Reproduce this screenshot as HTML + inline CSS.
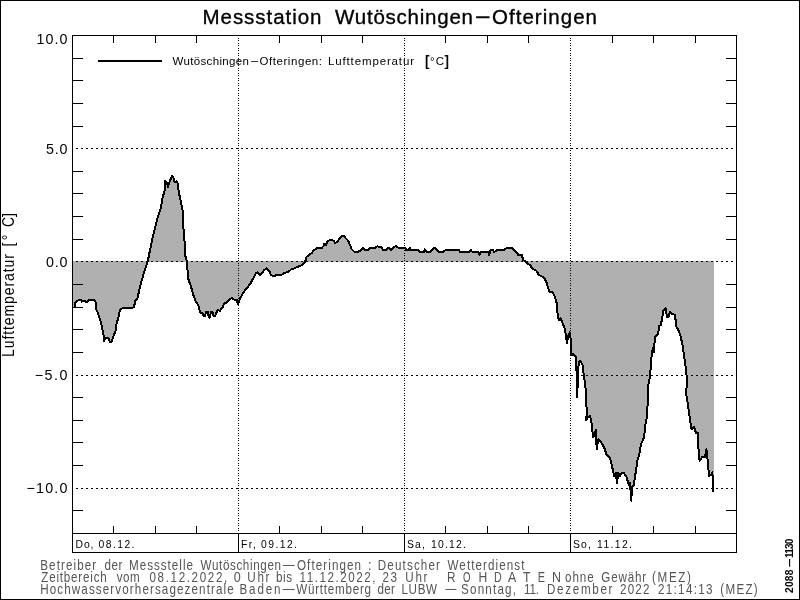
<!DOCTYPE html>
<html lang="de"><head><meta charset="utf-8"><title>Messstation Wutöschingen-Ofteringen</title>
<style>
html,body{margin:0;padding:0;background:#fff;}
body{width:800px;height:600px;overflow:hidden;font-family:"Liberation Sans",sans-serif;}
svg{display:block;}
text{font-family:"Liberation Sans",sans-serif;}
.ft{fill:#555;font-size:13px;}
</style></head><body>
<svg width="800" height="600" viewBox="0 0 800 600">
<rect x="0" y="0" width="800" height="600" fill="#fff"/>
<polygon points="72.5,261.5 72.5,307 74.5,307.5 74.5,303.0 76.5,301.5 79.0,299.8 81.0,299.8 82.0,301.6 83.0,300.8 84.0,301.6 85.0,301.0 86.0,301.7 87.5,301.7 89.0,299.8 94.5,299.8 95.5,302.0 96.2,309.0 98.0,313.5 100.3,320.0 100.8,321.7 102.5,330.0 103.8,336.7 104.2,340.8 105.8,337.5 108.3,337.5 110.0,342.5 111.7,341.7 114.2,334.2 115.8,330.0 116.7,322.5 118.3,318.3 120.0,310.0 123.3,307.5 125.8,308.3 131.7,308.3 134.2,306.7 135.0,300.8 137.5,298.3 140.0,286.7 143.3,275.0 146.7,264.2 148.0,260.0 151.7,241.7 155.0,228.3 157.5,218.3 160.8,208.3 162.5,198.3 164.7,190.0 165.0,180.8 166.3,181.7 168.0,186.7 170.0,180.8 172.0,175.8 173.3,177.5 174.7,182.5 176.7,181.3 178.0,184.2 178.7,191.7 180.8,201.7 182.5,210.0 183.3,226.7 184.7,243.3 185.3,255.8 187.0,261.7 188.0,278.3 190.8,285.8 193.3,295.0 195.8,301.7 198.3,305.0 200.0,312.5 202.5,313.3 203.3,315.8 205.0,315.8 206.3,311.7 208.0,311.7 208.7,317.5 210.0,317.5 210.8,311.7 212.5,311.7 213.3,315.8 215.3,315.8 217.5,310.0 220.0,310.8 222.5,307.5 224.2,303.3 226.7,302.5 229.2,300.0 231.7,298.0 234.2,299.7 236.7,300.0 238.0,304.2 239.7,299.2 242.5,294.2 245.8,289.2 250.0,284.2 253.3,278.3 255.8,273.3 257.5,272.5 259.7,275.0 261.7,273.3 264.2,270.0 266.7,268.3 269.2,270.8 270.8,275.0 273.3,276.3 276.7,275.0 281.7,274.7 284.2,273.0 288.3,272.0 290.8,269.7 295.0,268.0 299.2,266.3 302.5,264.7 305.0,262.0 306.7,256.7 309.2,254.7 311.7,253.0 314.2,250.0 317.5,248.0 321.7,248.0 323.7,245.8 324.2,243.7 325.8,245.0 327.5,241.3 330.8,239.7 333.3,240.5 335.3,243.0 337.5,241.7 340.0,238.0 341.7,235.8 344.2,235.8 345.8,238.3 348.3,240.8 350.0,245.0 351.7,249.2 354.2,251.7 358.3,251.7 360.8,250.5 363.3,248.0 364.7,249.7 365.0,250.0 368.1,250.0 370.6,247.5 375.6,247.5 377.5,246.3 381.9,247.5 383.1,250.0 386.3,250.0 388.8,247.5 391.3,250.0 393.8,247.5 396.3,245.6 397.5,247.5 405.0,247.5 406.3,250.0 408.8,250.0 410.0,247.5 410.6,250.0 418.1,250.0 419.4,251.9 423.8,251.9 425.0,249.4 426.3,251.9 430.0,251.9 432.5,249.4 435.0,247.5 436.9,250.0 438.8,251.9 443.1,251.9 445.6,250.0 458.8,250.0 460.0,251.9 469.4,251.9 471.0,249.8 471.9,251.5 478.1,251.9 479.4,255.0 480.6,251.9 488.1,251.9 489.0,255.0 490.6,250.0 493.1,249.8 494.0,252.3 496.9,250.0 504.4,249.8 506.9,247.8 511.9,247.8 514.4,250.0 516.9,252.5 518.1,254.8 521.9,255.0 523.1,260.0 525.6,261.3 527.5,263.8 530.0,265.0 532.5,268.8 536.3,270.6 538.8,275.0 541.9,276.3 545.0,279.4 546.7,283.0 549.2,291.7 552.5,292.5 555.0,296.7 556.7,303.3 557.5,313.3 558.7,320.0 560.8,318.3 562.5,323.3 564.2,326.7 565.8,334.2 567.0,343.3 568.3,335.8 569.7,332.5 570.8,340.0 571.3,355.0 573.3,354.2 575.8,356.7 576.7,375.0 577.2,397.5 578.0,375.0 578.7,362.5 580.3,360.8 582.5,365.0 583.7,375.0 585.3,385.0 586.3,400.0 586.7,413.3 586.3,420.0 588.0,416.7 590.0,416.3 591.3,420.0 592.0,428.3 593.3,437.5 595.8,430.0 596.7,449.2 598.3,439.2 601.7,443.3 604.2,447.5 606.7,455.0 610.0,458.3 611.7,465.0 614.2,475.8 615.8,473.0 617.0,483.0 618.3,472.5 620.0,475.8 621.7,473.0 624.2,473.3 626.7,477.5 628.7,484.7 630.0,482.5 631.3,500.8 632.0,486.7 633.7,485.0 635.8,471.7 637.5,460.0 639.2,455.0 640.8,445.0 644.2,436.7 645.3,425.0 646.7,418.3 647.5,406.7 648.0,386.7 650.0,376.0 651.7,355.0 653.0,347.5 653.7,352.5 655.0,336.7 658.0,334.2 659.2,325.8 660.8,325.0 662.5,316.7 663.0,310.8 665.8,308.3 667.0,317.5 668.7,316.7 670.0,311.7 672.5,314.2 675.0,314.7 676.3,326.7 678.3,330.0 680.3,335.0 682.5,345.0 684.2,356.7 685.8,368.3 686.7,376.7 686.4,395.0 689.0,412.0 690.4,422.0 691.6,429.0 694.0,427.0 696.0,433.0 698.0,433.0 698.4,448.0 699.6,461.0 702.0,457.0 705.0,457.0 706.4,449.0 707.6,460.0 709.0,476.0 711.0,475.0 712.4,472.4 713.2,492.0 714,492 714,261.5" fill="#b0b0b0" stroke="none" shape-rendering="crispEdges"/>
<rect x="73" y="261" width="641" height="1" fill="#b0b0b0" shape-rendering="crispEdges"/>
<g stroke="#000" stroke-width="1" shape-rendering="crispEdges" fill="none">
<line x1="76" y1="148.5" x2="735.5" y2="148.5" stroke-dasharray="2 3"/>
<line x1="76" y1="261.5" x2="735.5" y2="261.5" stroke-dasharray="2 3"/>
<line x1="76" y1="375.5" x2="735.5" y2="375.5" stroke-dasharray="2 3"/>
<line x1="76" y1="488.5" x2="735.5" y2="488.5" stroke-dasharray="2 3"/>
<line x1="238.5" y1="38" x2="238.5" y2="533.5" stroke-dasharray="1 1 1 2"/>
<line x1="404.5" y1="38" x2="404.5" y2="533.5" stroke-dasharray="1 1 1 2"/>
<line x1="570.5" y1="38" x2="570.5" y2="533.5" stroke-dasharray="1 1 1 2"/>
</g>
<polyline points="74.5,307.5 74.5,303.0 76.5,301.5 79.0,299.8 81.0,299.8 82.0,301.6 83.0,300.8 84.0,301.6 85.0,301.0 86.0,301.7 87.5,301.7 89.0,299.8 94.5,299.8 95.5,302.0 96.2,309.0 98.0,313.5 100.3,320.0 100.8,321.7 102.5,330.0 103.8,336.7 104.2,340.8 105.8,337.5 108.3,337.5 110.0,342.5 111.7,341.7 114.2,334.2 115.8,330.0 116.7,322.5 118.3,318.3 120.0,310.0 123.3,307.5 125.8,308.3 131.7,308.3 134.2,306.7 135.0,300.8 137.5,298.3 140.0,286.7 143.3,275.0 146.7,264.2 148.0,260.0 151.7,241.7 155.0,228.3 157.5,218.3 160.8,208.3 162.5,198.3 164.7,190.0 165.0,180.8 166.3,181.7 168.0,186.7 170.0,180.8 172.0,175.8 173.3,177.5 174.7,182.5 176.7,181.3 178.0,184.2 178.7,191.7 180.8,201.7 182.5,210.0 183.3,226.7 184.7,243.3 185.3,255.8 187.0,261.7 188.0,278.3 190.8,285.8 193.3,295.0 195.8,301.7 198.3,305.0 200.0,312.5 202.5,313.3 203.3,315.8 205.0,315.8 206.3,311.7 208.0,311.7 208.7,317.5 210.0,317.5 210.8,311.7 212.5,311.7 213.3,315.8 215.3,315.8 217.5,310.0 220.0,310.8 222.5,307.5 224.2,303.3 226.7,302.5 229.2,300.0 231.7,298.0 234.2,299.7 236.7,300.0 238.0,304.2 239.7,299.2 242.5,294.2 245.8,289.2 250.0,284.2 253.3,278.3 255.8,273.3 257.5,272.5 259.7,275.0 261.7,273.3 264.2,270.0 266.7,268.3 269.2,270.8 270.8,275.0 273.3,276.3 276.7,275.0 281.7,274.7 284.2,273.0 288.3,272.0 290.8,269.7 295.0,268.0 299.2,266.3 302.5,264.7 305.0,262.0 306.7,256.7 309.2,254.7 311.7,253.0 314.2,250.0 317.5,248.0 321.7,248.0 323.7,245.8 324.2,243.7 325.8,245.0 327.5,241.3 330.8,239.7 333.3,240.5 335.3,243.0 337.5,241.7 340.0,238.0 341.7,235.8 344.2,235.8 345.8,238.3 348.3,240.8 350.0,245.0 351.7,249.2 354.2,251.7 358.3,251.7 360.8,250.5 363.3,248.0 364.7,249.7 365.0,250.0 368.1,250.0 370.6,247.5 375.6,247.5 377.5,246.3 381.9,247.5 383.1,250.0 386.3,250.0 388.8,247.5 391.3,250.0 393.8,247.5 396.3,245.6 397.5,247.5 405.0,247.5 406.3,250.0 408.8,250.0 410.0,247.5 410.6,250.0 418.1,250.0 419.4,251.9 423.8,251.9 425.0,249.4 426.3,251.9 430.0,251.9 432.5,249.4 435.0,247.5 436.9,250.0 438.8,251.9 443.1,251.9 445.6,250.0 458.8,250.0 460.0,251.9 469.4,251.9 471.0,249.8 471.9,251.5 478.1,251.9 479.4,255.0 480.6,251.9 488.1,251.9 489.0,255.0 490.6,250.0 493.1,249.8 494.0,252.3 496.9,250.0 504.4,249.8 506.9,247.8 511.9,247.8 514.4,250.0 516.9,252.5 518.1,254.8 521.9,255.0 523.1,260.0 525.6,261.3 527.5,263.8 530.0,265.0 532.5,268.8 536.3,270.6 538.8,275.0 541.9,276.3 545.0,279.4 546.7,283.0 549.2,291.7 552.5,292.5 555.0,296.7 556.7,303.3 557.5,313.3 558.7,320.0 560.8,318.3 562.5,323.3 564.2,326.7 565.8,334.2 567.0,343.3 568.3,335.8 569.7,332.5 570.8,340.0 571.3,355.0 573.3,354.2 575.8,356.7 576.7,375.0 577.2,397.5 578.0,375.0 578.7,362.5 580.3,360.8 582.5,365.0 583.7,375.0 585.3,385.0 586.3,400.0 586.7,413.3 586.3,420.0 588.0,416.7 590.0,416.3 591.3,420.0 592.0,428.3 593.3,437.5 595.8,430.0 596.7,449.2 598.3,439.2 601.7,443.3 604.2,447.5 606.7,455.0 610.0,458.3 611.7,465.0 614.2,475.8 615.8,473.0 617.0,483.0 618.3,472.5 620.0,475.8 621.7,473.0 624.2,473.3 626.7,477.5 628.7,484.7 630.0,482.5 631.3,500.8 632.0,486.7 633.7,485.0 635.8,471.7 637.5,460.0 639.2,455.0 640.8,445.0 644.2,436.7 645.3,425.0 646.7,418.3 647.5,406.7 648.0,386.7 650.0,376.0 651.7,355.0 653.0,347.5 653.7,352.5 655.0,336.7 658.0,334.2 659.2,325.8 660.8,325.0 662.5,316.7 663.0,310.8 665.8,308.3 667.0,317.5 668.7,316.7 670.0,311.7 672.5,314.2 675.0,314.7 676.3,326.7 678.3,330.0 680.3,335.0 682.5,345.0 684.2,356.7 685.8,368.3 686.7,376.7 686.4,395.0 689.0,412.0 690.4,422.0 691.6,429.0 694.0,427.0 696.0,433.0 698.0,433.0 698.4,448.0 699.6,461.0 702.0,457.0 705.0,457.0 706.4,449.0 707.6,460.0 709.0,476.0 711.0,475.0 712.4,472.4 713.2,492.0" fill="none" stroke="#000" stroke-width="2" stroke-linejoin="round" shape-rendering="crispEdges"/>
<g stroke="#000" stroke-width="1" shape-rendering="crispEdges" fill="none">
<rect x="72.5" y="35.5" width="664.0" height="517.0"/>
<line x1="72.5" y1="533.5" x2="736.5" y2="533.5"/>
<line x1="113.5" y1="35.5" x2="113.5" y2="43.0"/>
<line x1="113.5" y1="533.5" x2="113.5" y2="526.0"/>
<line x1="155.5" y1="35.5" x2="155.5" y2="43.0"/>
<line x1="155.5" y1="533.5" x2="155.5" y2="526.0"/>
<line x1="196.5" y1="35.5" x2="196.5" y2="43.0"/>
<line x1="196.5" y1="533.5" x2="196.5" y2="526.0"/>
<line x1="238.5" y1="533.5" x2="238.5" y2="552.5"/>
<line x1="279.5" y1="35.5" x2="279.5" y2="43.0"/>
<line x1="279.5" y1="533.5" x2="279.5" y2="526.0"/>
<line x1="321.5" y1="35.5" x2="321.5" y2="43.0"/>
<line x1="321.5" y1="533.5" x2="321.5" y2="526.0"/>
<line x1="362.5" y1="35.5" x2="362.5" y2="43.0"/>
<line x1="362.5" y1="533.5" x2="362.5" y2="526.0"/>
<line x1="404.5" y1="533.5" x2="404.5" y2="552.5"/>
<line x1="445.5" y1="35.5" x2="445.5" y2="43.0"/>
<line x1="445.5" y1="533.5" x2="445.5" y2="526.0"/>
<line x1="487.5" y1="35.5" x2="487.5" y2="43.0"/>
<line x1="487.5" y1="533.5" x2="487.5" y2="526.0"/>
<line x1="528.5" y1="35.5" x2="528.5" y2="43.0"/>
<line x1="528.5" y1="533.5" x2="528.5" y2="526.0"/>
<line x1="570.5" y1="533.5" x2="570.5" y2="552.5"/>
<line x1="612.5" y1="35.5" x2="612.5" y2="43.0"/>
<line x1="612.5" y1="533.5" x2="612.5" y2="526.0"/>
<line x1="653.5" y1="35.5" x2="653.5" y2="43.0"/>
<line x1="653.5" y1="533.5" x2="653.5" y2="526.0"/>
<line x1="695.5" y1="35.5" x2="695.5" y2="43.0"/>
<line x1="695.5" y1="533.5" x2="695.5" y2="526.0"/>
<line x1="72.5" y1="510.5" x2="83.0" y2="510.5"/>
<line x1="736.5" y1="510.5" x2="726.0" y2="510.5"/>
<line x1="72.5" y1="465.5" x2="83.0" y2="465.5"/>
<line x1="736.5" y1="465.5" x2="726.0" y2="465.5"/>
<line x1="72.5" y1="442.5" x2="83.0" y2="442.5"/>
<line x1="736.5" y1="442.5" x2="726.0" y2="442.5"/>
<line x1="72.5" y1="420.5" x2="83.0" y2="420.5"/>
<line x1="736.5" y1="420.5" x2="726.0" y2="420.5"/>
<line x1="72.5" y1="397.5" x2="83.0" y2="397.5"/>
<line x1="736.5" y1="397.5" x2="726.0" y2="397.5"/>
<line x1="72.5" y1="352.5" x2="83.0" y2="352.5"/>
<line x1="736.5" y1="352.5" x2="726.0" y2="352.5"/>
<line x1="72.5" y1="329.5" x2="83.0" y2="329.5"/>
<line x1="736.5" y1="329.5" x2="726.0" y2="329.5"/>
<line x1="72.5" y1="307.5" x2="83.0" y2="307.5"/>
<line x1="736.5" y1="307.5" x2="726.0" y2="307.5"/>
<line x1="72.5" y1="284.5" x2="83.0" y2="284.5"/>
<line x1="736.5" y1="284.5" x2="726.0" y2="284.5"/>
<line x1="72.5" y1="239.5" x2="83.0" y2="239.5"/>
<line x1="736.5" y1="239.5" x2="726.0" y2="239.5"/>
<line x1="72.5" y1="216.5" x2="83.0" y2="216.5"/>
<line x1="736.5" y1="216.5" x2="726.0" y2="216.5"/>
<line x1="72.5" y1="193.5" x2="83.0" y2="193.5"/>
<line x1="736.5" y1="193.5" x2="726.0" y2="193.5"/>
<line x1="72.5" y1="171.5" x2="83.0" y2="171.5"/>
<line x1="736.5" y1="171.5" x2="726.0" y2="171.5"/>
<line x1="72.5" y1="126.5" x2="83.0" y2="126.5"/>
<line x1="736.5" y1="126.5" x2="726.0" y2="126.5"/>
<line x1="72.5" y1="103.5" x2="83.0" y2="103.5"/>
<line x1="736.5" y1="103.5" x2="726.0" y2="103.5"/>
<line x1="72.5" y1="80.5" x2="83.0" y2="80.5"/>
<line x1="736.5" y1="80.5" x2="726.0" y2="80.5"/>
<line x1="72.5" y1="58.5" x2="83.0" y2="58.5"/>
<line x1="736.5" y1="58.5" x2="726.0" y2="58.5"/>
</g>
<rect x="98" y="60" width="64" height="2" fill="#000" shape-rendering="crispEdges"/>
<g class="t">
<text transform="translate(202.50,23.70)" font-size="20.5px" stroke="#000" stroke-width="0.35" textLength="119.00" lengthAdjust="spacing">Messstation</text>
<text transform="translate(335.00,23.70)" font-size="20.5px" stroke="#000" stroke-width="0.35" textLength="138.00" lengthAdjust="spacing">Wutöschingen</text>
<text transform="translate(475.00,23.70)" font-size="20.5px" stroke="#000" stroke-width="0.35" textLength="15.50" lengthAdjust="spacingAndGlyphs">−</text>
<text transform="translate(492.00,23.70)" font-size="20.5px" stroke="#000" stroke-width="0.35" textLength="105.00" lengthAdjust="spacing">Ofteringen</text>
<text transform="translate(172.50,65.40)" font-size="11.5px" textLength="76.50" lengthAdjust="spacing">Wutöschingen</text>
<text transform="translate(250.50,65.40)" font-size="11.5px" textLength="8.50" lengthAdjust="spacingAndGlyphs">−</text>
<text transform="translate(259.50,65.40)" font-size="11.5px" textLength="62.50" lengthAdjust="spacing">Ofteringen:</text>
<text transform="translate(328.00,65.40)" font-size="11.5px" textLength="86.00" lengthAdjust="spacing">Lufttemperatur</text>
<text transform="translate(425.00,65.70)" font-size="14.2px" font-weight="bold" textLength="4.50" lengthAdjust="spacingAndGlyphs">[</text>
<text transform="translate(430.00,65.40)" font-size="11.5px" textLength="14.00" lengthAdjust="spacing">°C</text>
<text transform="translate(444.50,65.70)" font-size="14.2px" font-weight="bold" textLength="4.50" lengthAdjust="spacingAndGlyphs">]</text>
<text transform="translate(36.50,43.80)" font-size="14.3px" textLength="31.00" lengthAdjust="spacing">10.0</text>
<text transform="translate(46.00,153.90)" font-size="14.3px" textLength="21.50" lengthAdjust="spacing">5.0</text>
<text transform="translate(46.00,266.90)" font-size="14.3px" textLength="21.50" lengthAdjust="spacing">0.0</text>
<text transform="translate(34.75,379.90)" font-size="14.3px" textLength="32.75" lengthAdjust="spacing">−5.0</text>
<text transform="translate(26.50,493.40)" font-size="14.3px" textLength="41.00" lengthAdjust="spacing">−10.0</text>
<text transform="translate(75.50,548.00) scale(0.92,1)" font-size="11.3px" textLength="19.57" lengthAdjust="spacing">Do,</text>
<text transform="translate(98.50,548.00) scale(0.92,1)" font-size="11.3px" textLength="39.13" lengthAdjust="spacing">08.12.</text>
<text transform="translate(241.00,548.00) scale(0.92,1)" font-size="11.3px" textLength="16.30" lengthAdjust="spacing">Fr,</text>
<text transform="translate(261.00,548.00) scale(0.92,1)" font-size="11.3px" textLength="39.13" lengthAdjust="spacing">09.12.</text>
<text transform="translate(407.00,548.00) scale(0.92,1)" font-size="11.3px" textLength="19.57" lengthAdjust="spacing">Sa,</text>
<text transform="translate(431.00,548.00) scale(0.92,1)" font-size="11.3px" textLength="38.04" lengthAdjust="spacing">10.12.</text>
<text transform="translate(573.00,548.00) scale(0.92,1)" font-size="11.3px" textLength="19.57" lengthAdjust="spacing">So,</text>
<text transform="translate(597.00,548.00) scale(0.92,1)" font-size="11.3px" textLength="38.04" lengthAdjust="spacing">11.12.</text>
<text transform="translate(40.25,569.90) scale(0.82,1)" font-size="14.2px" fill="#555" textLength="68.29" lengthAdjust="spacing">Betreiber</text>
<text transform="translate(104.50,569.90) scale(0.82,1)" font-size="14.2px" fill="#555" textLength="21.95" lengthAdjust="spacing">der</text>
<text transform="translate(129.00,569.90) scale(0.82,1)" font-size="14.2px" fill="#555" textLength="78.05" lengthAdjust="spacing">Messstelle</text>
<text transform="translate(200.50,569.90) scale(0.82,1)" font-size="14.2px" fill="#555" textLength="98.17" lengthAdjust="spacing">Wutöschingen</text>
<text transform="translate(281.50,569.90)" font-size="14.2px" fill="#555" textLength="14.00" lengthAdjust="spacingAndGlyphs">−</text>
<text transform="translate(297.00,569.90) scale(0.82,1)" font-size="14.2px" fill="#555" textLength="78.05" lengthAdjust="spacing">Ofteringen</text>
<text transform="translate(367.75,569.90)" font-size="14.2px" fill="#555" textLength="4.00" lengthAdjust="spacingAndGlyphs">:</text>
<text transform="translate(377.75,569.90) scale(0.82,1)" font-size="14.2px" fill="#555" textLength="75.91" lengthAdjust="spacing">Deutscher</text>
<text transform="translate(447.50,569.90) scale(0.82,1)" font-size="14.2px" fill="#555" textLength="93.90" lengthAdjust="spacing">Wetterdienst</text>
<text transform="translate(41.25,581.90) scale(0.82,1)" font-size="14.2px" fill="#555" textLength="79.88" lengthAdjust="spacing">Zeitbereich</text>
<text transform="translate(116.75,581.90) scale(0.82,1)" font-size="14.2px" fill="#555" textLength="28.05" lengthAdjust="spacing">vom</text>
<text transform="translate(149.50,581.90) scale(0.82,1)" font-size="14.2px" fill="#555" textLength="94.82" lengthAdjust="spacing">08.12.2022,</text>
<text transform="translate(233.75,581.90)" font-size="14.2px" fill="#555" textLength="7.00" lengthAdjust="spacingAndGlyphs">0</text>
<text transform="translate(247.25,581.90) scale(0.82,1)" font-size="14.2px" fill="#555" textLength="27.13" lengthAdjust="spacing">Uhr</text>
<text transform="translate(276.00,581.90) scale(0.82,1)" font-size="14.2px" fill="#555" textLength="19.51" lengthAdjust="spacing">bis</text>
<text transform="translate(299.50,581.90) scale(0.82,1)" font-size="14.2px" fill="#555" textLength="92.68" lengthAdjust="spacing">11.12.2022,</text>
<text transform="translate(382.50,581.90) scale(0.82,1)" font-size="14.2px" fill="#555" textLength="17.68" lengthAdjust="spacing">23</text>
<text transform="translate(405.25,581.90) scale(0.82,1)" font-size="14.2px" fill="#555" textLength="27.13" lengthAdjust="spacing">Uhr</text>
<text transform="translate(447.00,581.90)" font-size="14.2px" fill="#555" textLength="8.50" lengthAdjust="spacingAndGlyphs">R</text>
<text transform="translate(463.00,581.90)" font-size="14.2px" fill="#555" textLength="7.50" lengthAdjust="spacingAndGlyphs">O</text>
<text transform="translate(478.50,581.90)" font-size="14.2px" fill="#555" textLength="8.75" lengthAdjust="spacingAndGlyphs">H</text>
<text transform="translate(494.00,581.90)" font-size="14.2px" fill="#555" textLength="7.75" lengthAdjust="spacingAndGlyphs">D</text>
<text transform="translate(508.00,581.90)" font-size="14.2px" fill="#555" textLength="8.25" lengthAdjust="spacingAndGlyphs">A</text>
<text transform="translate(523.00,581.90)" font-size="14.2px" fill="#555" textLength="7.50" lengthAdjust="spacingAndGlyphs">T</text>
<text transform="translate(537.75,581.90)" font-size="14.2px" fill="#555" textLength="7.25" lengthAdjust="spacingAndGlyphs">E</text>
<text transform="translate(552.00,581.90)" font-size="14.2px" fill="#555" textLength="9.00" lengthAdjust="spacingAndGlyphs">N</text>
<text transform="translate(565.00,581.90) scale(0.82,1)" font-size="14.2px" fill="#555" textLength="35.06" lengthAdjust="spacing">ohne</text>
<text transform="translate(601.25,581.90) scale(0.82,1)" font-size="14.2px" fill="#555" textLength="54.88" lengthAdjust="spacing">Gewähr</text>
<text transform="translate(652.00,581.90) scale(0.82,1)" font-size="14.2px" fill="#555" textLength="47.56" lengthAdjust="spacing">(MEZ)</text>
<text transform="translate(40.25,593.90) scale(0.82,1)" font-size="14.2px" fill="#555" textLength="235.98" lengthAdjust="spacing">Hochwasservorhersagezentrale</text>
<text transform="translate(239.50,593.90) scale(0.82,1)" font-size="14.2px" fill="#555" textLength="50.00" lengthAdjust="spacing">Baden</text>
<text transform="translate(281.00,593.90)" font-size="14.2px" fill="#555" textLength="14.50" lengthAdjust="spacingAndGlyphs">−</text>
<text transform="translate(296.25,593.90) scale(0.82,1)" font-size="14.2px" fill="#555" textLength="91.16" lengthAdjust="spacing">Württemberg</text>
<text transform="translate(377.50,593.90) scale(0.82,1)" font-size="14.2px" fill="#555" textLength="21.34" lengthAdjust="spacing">der</text>
<text transform="translate(401.50,593.90) scale(0.82,1)" font-size="14.2px" fill="#555" textLength="43.29" lengthAdjust="spacing">LUBW</text>
<text transform="translate(444.00,593.90)" font-size="14.2px" fill="#555" textLength="13.25" lengthAdjust="spacingAndGlyphs">−</text>
<text transform="translate(461.00,593.90) scale(0.82,1)" font-size="14.2px" fill="#555" textLength="67.07" lengthAdjust="spacing">Sonntag,</text>
<text transform="translate(524.00,593.90) scale(0.82,1)" font-size="14.2px" fill="#555" textLength="18.29" lengthAdjust="spacing">11.</text>
<text transform="translate(547.00,593.90) scale(0.82,1)" font-size="14.2px" fill="#555" textLength="79.88" lengthAdjust="spacing">Dezember</text>
<text transform="translate(620.00,593.90) scale(0.82,1)" font-size="14.2px" fill="#555" textLength="35.98" lengthAdjust="spacing">2022</text>
<text transform="translate(658.00,593.90) scale(0.82,1)" font-size="14.2px" fill="#555" textLength="66.46" lengthAdjust="spacing">21:14:13</text>
<text transform="translate(720.25,593.90) scale(0.82,1)" font-size="14.2px" fill="#555" textLength="45.73" lengthAdjust="spacing">(MEZ)</text>
<text transform="translate(14.00,357.00) rotate(-90) scale(0.9,1)" font-size="15.6px" textLength="114.44" lengthAdjust="spacing">Lufttemperatur</text>
<text transform="translate(14.00,246.50) rotate(-90) scale(0.9,1)" font-size="15.6px" textLength="13.33" lengthAdjust="spacing">[°</text>
<text transform="translate(14.00,227.00) rotate(-90) scale(0.9,1)" font-size="15.6px" textLength="15.56" lengthAdjust="spacing">C]</text>
<text transform="translate(793.20,593.00) rotate(-90)" font-size="10.2px" font-weight="bold" textLength="23.50" lengthAdjust="spacing">2088</text>
<text transform="translate(793.20,567.00) rotate(-90)" font-size="10.2px" font-weight="bold" textLength="9.00" lengthAdjust="spacingAndGlyphs">−</text>
<text transform="translate(793.20,558.00) rotate(-90)" font-size="10.2px" font-weight="bold" textLength="19.50" lengthAdjust="spacing">1130</text>
</g>
<g fill="#000" shape-rendering="crispEdges"><rect x="0" y="0" width="800" height="1"/><rect x="0" y="599" width="800" height="1"/><rect x="0" y="0" width="1" height="600"/><rect x="799" y="0" width="1" height="600"/></g>
</svg></body></html>
